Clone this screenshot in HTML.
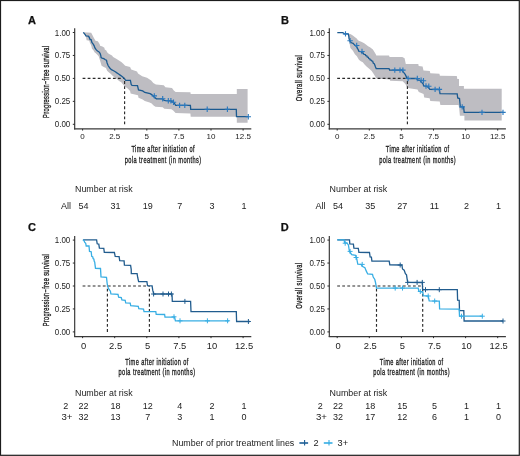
<!DOCTYPE html>
<html><head><meta charset="utf-8"><title>Figure</title>
<style>
html,body{margin:0;padding:0;background:#fff;}
svg{display:block;will-change:transform;font-family:"Liberation Sans", sans-serif;}
</style></head>
<body>
<svg width="520" height="456" viewBox="0 0 520 456">
<rect x="0" y="0" width="520" height="456" fill="#fff"/>
<polygon points="83.3,32.3 87.3,32.5 91.2,32.8 92.5,35.2 93.5,37.2 94.5,38.9 95.5,40.8 97.8,41.2 98.8,42.8 99.8,44.4 100.1,45.8 102.4,46.4 104.4,47.7 104.7,49.4 106.3,50.4 107.0,52.0 108.0,53.3 109.6,54.3 112.0,55.6 113.1,57.0 115.8,58.6 118.6,60.3 121.3,61.9 123.5,64.1 125.2,65.8 130.1,66.9 131.2,69.6 137.0,71.5 138.0,73.6 142.2,76.2 147.0,77.8 151.2,80.4 153.3,83.1 155.9,84.6 163.8,85.2 165.4,87.3 172.0,88.1 173.8,90.5 175.6,92.0 190.4,92.2 190.7,94.1 236.8,94.1 236.8,89.1 247.6,89.1 247.6,122.8 236.8,122.8 236.8,116.7 190.7,116.7 190.4,113.4 175.6,112.9 173.2,110.5 171.4,109.3 164.3,108.8 162.7,107.3 155.4,106.7 153.3,105.2 151.7,103.6 149.6,102.5 144.8,101.0 142.7,99.4 138.5,97.8 138.0,95.2 130.6,93.6 130.1,91.0 128.0,88.8 125.7,87.1 123.5,85.0 121.3,82.2 119.1,81.1 117.5,79.5 115.3,77.8 113.1,76.2 110.9,74.0 108.7,72.3 107.1,70.7 106.0,68.0 103.8,66.9 101.6,65.8 100.5,61.9 99.4,58.5 98.8,56.6 97.8,55.3 96.8,54.3 95.8,53.3 94.5,52.3 93.8,50.7 92.9,49.7 91.9,48.4 91.5,46.4 90.9,44.8 89.9,43.1 89.6,41.5 88.6,40.5 86.6,40.2 86.3,38.5 85.9,36.6 83.3,32.6" fill="#bebdc2"/>
<path d="M82.6 78.4H124.6" fill="none" stroke="#2a2a2a" stroke-width="1.15" stroke-dasharray="2.8 2.25"/>
<path d="M124.6 124.3V78.4" fill="none" stroke="#2a2a2a" stroke-width="1.15" stroke-dasharray="2.8 2.25"/>
<polyline points="83.3,32.3 85.0,34.3 85.9,35.9 88.3,36.2 89.2,37.2 89.9,39.2 91.2,39.8 91.9,42.5 93.2,44.1 94.2,45.8 94.8,47.7 96.1,49.7 97.5,51.0 98.8,51.7 100.1,53.3 100.8,55.6 101.1,57.6 102.1,58.1 103.8,58.6 105.4,59.7 106.5,60.3 107.1,63.0 108.2,65.8 109.8,68.0 111.4,69.6 113.6,70.7 115.3,71.8 116.9,72.9 118.6,74.0 120.8,75.6 123.0,77.3 124.6,78.9 125.7,80.3 130.4,80.3 131.2,84.4 132.0,85.4 137.5,85.7 138.5,89.9 142.7,90.9 144.8,92.5 150.1,93.6 151.7,94.6 153.8,96.7 156.4,98.8 161.7,98.8 164.3,100.4 165.7,100.7 170.9,100.8 172.2,101.8 174.0,102.7 175.7,105.4 190.4,105.4 190.7,109.3 236.3,109.3 236.5,116.7 248.3,116.7" fill="none" stroke="#1b5a90" stroke-width="1.3"/>
<path d="M151.6 95.9H157.0M154.3 93.2V98.6" stroke="#2a78bd" stroke-width="1.1" fill="none"/>
<path d="M160.0 98.8H165.4M162.7 96.1V101.5" stroke="#2a78bd" stroke-width="1.1" fill="none"/>
<path d="M165.6 100.7H171.0M168.3 98.0V103.4" stroke="#2a78bd" stroke-width="1.1" fill="none"/>
<path d="M168.2 100.8H173.6M170.9 98.1V103.5" stroke="#2a78bd" stroke-width="1.1" fill="none"/>
<path d="M170.8 102.3H176.2M173.5 99.6V105.0" stroke="#2a78bd" stroke-width="1.1" fill="none"/>
<path d="M176.9 105.4H182.3M179.6 102.7V108.1" stroke="#2a78bd" stroke-width="1.1" fill="none"/>
<path d="M182.1 105.4H187.5M184.8 102.7V108.1" stroke="#2a78bd" stroke-width="1.1" fill="none"/>
<path d="M204.5 109.3H209.9M207.2 106.6V112.0" stroke="#2a78bd" stroke-width="1.1" fill="none"/>
<path d="M224.7 109.3H230.1M227.4 106.6V112.0" stroke="#2a78bd" stroke-width="1.1" fill="none"/>
<path d="M245.6 116.7H251.0M248.3 114.0V119.4" stroke="#2a78bd" stroke-width="1.1" fill="none"/>
<polygon points="337.3,32.6 343.0,32.6 348.2,33.4 350.8,34.2 352.8,35.6 354.7,36.9 356.7,38.5 358.0,40.2 359.3,41.1 361.3,41.8 363.3,42.8 364.6,43.5 368.1,46.3 370.0,47.3 372.9,49.6 375.8,54.2 376.3,55.4 389.0,55.4 389.6,57.1 402.3,57.1 404.6,58.3 405.8,64.0 418.3,64.1 418.7,66.1 422.6,66.5 423.5,70.4 429.8,70.9 430.3,73.3 439.4,73.8 439.9,75.7 456.8,76.0 457.3,79.0 459.0,79.0 459.0,86.1 463.9,86.1 463.9,88.7 501.7,88.7 501.7,120.4 464.4,120.4 464.4,115.7 459.9,115.7 459.2,108.3 458.5,104.9 440.4,104.9 439.7,101.5 430.3,100.9 429.6,98.2 424.2,97.5 423.6,94.1 418.8,92.1 417.5,89.4 407.4,88.1 405.4,84.0 402.7,81.3 390.2,80.8 389.6,79.6 376.6,78.6 375.2,76.6 373.7,74.1 371.7,71.1 369.8,69.2 366.8,66.7 364.8,64.7 362.8,62.2 360.8,61.2 358.9,59.8 356.9,56.3 354.9,54.3 352.9,50.8 350.4,47.9 349.5,42.9 348.2,34.2 343.0,32.6 337.3,32.6" fill="#bebdc2"/>
<path d="M337.2 78.4H407.4" fill="none" stroke="#2a2a2a" stroke-width="1.15" stroke-dasharray="2.8 2.25"/>
<path d="M407.4 124.3V78.4" fill="none" stroke="#2a2a2a" stroke-width="1.15" stroke-dasharray="2.8 2.25"/>
<polyline points="337.3,32.6 342.9,32.6 344.2,33.9 348.2,33.9 348.8,36.2 349.1,38.8 350.1,41.5 351.4,42.8 353.1,43.4 354.7,45.1 356.7,46.7 357.7,48.7 359.0,51.3 361.3,51.6 361.8,52.6 363.3,53.0 363.8,54.3 365.3,54.6 365.8,55.6 366.8,55.8 367.2,57.0 368.3,57.3 368.8,58.5 369.8,58.8 370.2,60.0 371.2,60.2 371.7,61.0 372.7,61.2 373.2,63.0 374.2,63.6 374.7,64.8 375.5,67.0 376.2,68.5 389.0,68.6 389.6,70.1 401.7,70.1 403.4,72.1 405.2,74.4 406.9,77.9 408.1,78.5 416.3,78.5 417.8,80.0 420.2,80.5 421.1,81.9 423.1,83.8 423.6,85.8 426.4,86.3 428.8,87.7 429.8,89.3 439.4,89.5 440.0,93.7 457.2,93.8 457.7,98.0 459.5,98.5 460.3,106.9 463.6,106.9 464.2,112.4 503.0,112.4" fill="none" stroke="#1b5a90" stroke-width="1.3"/>
<path d="M342.8 33.9H348.2M345.5 31.2V36.6" stroke="#2a78bd" stroke-width="1.1" fill="none"/>
<path d="M347.4 40.8H352.8M350.1 38.1V43.5" stroke="#2a78bd" stroke-width="1.1" fill="none"/>
<path d="M354.0 45.5H359.4M356.7 42.8V48.2" stroke="#2a78bd" stroke-width="1.1" fill="none"/>
<path d="M359.3 51.5H364.7M362.0 48.8V54.2" stroke="#2a78bd" stroke-width="1.1" fill="none"/>
<path d="M392.1 70.1H397.5M394.8 67.4V72.8" stroke="#2a78bd" stroke-width="1.1" fill="none"/>
<path d="M397.3 70.1H402.7M400.0 67.4V72.8" stroke="#2a78bd" stroke-width="1.1" fill="none"/>
<path d="M400.2 70.1H405.6M402.9 67.4V72.8" stroke="#2a78bd" stroke-width="1.1" fill="none"/>
<path d="M405.4 78.5H410.8M408.1 75.8V81.2" stroke="#2a78bd" stroke-width="1.1" fill="none"/>
<path d="M414.6 78.5H420.0M417.3 75.8V81.2" stroke="#2a78bd" stroke-width="1.1" fill="none"/>
<path d="M418.4 80.3H423.8M421.1 77.6V83.0" stroke="#2a78bd" stroke-width="1.1" fill="none"/>
<path d="M420.8 80.7H426.2M423.5 78.0V83.4" stroke="#2a78bd" stroke-width="1.1" fill="none"/>
<path d="M423.3 86.0H428.7M426.0 83.3V88.7" stroke="#2a78bd" stroke-width="1.1" fill="none"/>
<path d="M426.1 86.3H431.5M428.8 83.6V89.0" stroke="#2a78bd" stroke-width="1.1" fill="none"/>
<path d="M432.4 89.4H437.8M435.1 86.7V92.1" stroke="#2a78bd" stroke-width="1.1" fill="none"/>
<path d="M436.7 89.4H442.1M439.4 86.7V92.1" stroke="#2a78bd" stroke-width="1.1" fill="none"/>
<path d="M459.5 106.9H464.9M462.2 104.2V109.6" stroke="#2a78bd" stroke-width="1.1" fill="none"/>
<path d="M479.3 112.4H484.7M482.0 109.7V115.1" stroke="#2a78bd" stroke-width="1.1" fill="none"/>
<path d="M500.3 112.4H505.7M503.0 109.7V115.1" stroke="#2a78bd" stroke-width="1.1" fill="none"/>
<path d="M82.6 286.0H149.4" fill="none" stroke="#2a2a2a" stroke-width="1.15" stroke-dasharray="2.8 2.25"/>
<path d="M107.4 331.9V286.0" fill="none" stroke="#2a2a2a" stroke-width="1.15" stroke-dasharray="2.8 2.25"/>
<path d="M149.4 331.9V286.0" fill="none" stroke="#2a2a2a" stroke-width="1.15" stroke-dasharray="2.8 2.25"/>
<polyline points="82.9,239.9 96.6,239.9 97.2,243.8 98.8,244.1 99.4,248.2 103.8,248.4 104.3,252.3 114.4,252.5 115.2,256.4 119.1,256.6 119.7,260.6 124.1,260.9 124.4,265.1 130.6,265.3 131.2,269.3 131.3,273.5 137.1,273.6 137.7,277.5 138.6,281.5 146.9,281.7 147.5,285.7 152.1,285.9 152.7,290.2 153.8,294.0 172.0,294.0 172.3,301.4 190.6,301.4 191.0,311.7 236.3,311.7 236.6,321.5 249.8,321.5" fill="none" stroke="#215c8e" stroke-width="1.3"/>
<path d="M151.1 294.0H156.1M153.6 291.5V296.5" stroke="#215c8e" stroke-width="1.0" fill="none"/>
<path d="M160.5 294.0H165.5M163.0 291.5V296.5" stroke="#215c8e" stroke-width="1.0" fill="none"/>
<path d="M166.0 294.0H171.0M168.5 291.5V296.5" stroke="#215c8e" stroke-width="1.0" fill="none"/>
<path d="M168.9 294.0H173.9M171.4 291.5V296.5" stroke="#215c8e" stroke-width="1.0" fill="none"/>
<path d="M182.4 301.4H187.4M184.9 298.9V303.9" stroke="#215c8e" stroke-width="1.0" fill="none"/>
<path d="M245.9 321.5H250.9M248.4 319.0V324.0" stroke="#215c8e" stroke-width="1.0" fill="none"/>
<polyline points="82.9,239.9 84.0,240.5 84.6,242.1 85.7,243.2 86.2,246.0 89.0,246.0 89.5,251.4 91.2,251.7 91.7,256.4 92.8,256.9 93.1,258.6 93.9,259.1 94.2,261.3 94.7,261.9 95.0,264.6 95.5,268.3 100.5,268.5 101.0,276.8 106.5,277.3 107.1,283.0 107.6,286.2 108.7,289.0 110.4,291.2 110.9,293.9 118.0,294.3 118.6,297.2 121.3,297.5 121.9,300.0 125.2,300.3 125.7,302.8 130.2,303.2 130.7,305.7 138.3,306.3 138.8,308.6 143.5,309.0 144.0,311.5 155.8,311.6 156.2,314.3 164.6,314.5 165.0,317.2 174.6,317.2 175.4,320.8 229.0,320.8" fill="none" stroke="#38aee4" stroke-width="1.3"/>
<path d="M171.5 316.8H176.5M174.0 314.3V319.3" stroke="#38aee4" stroke-width="1.0" fill="none"/>
<path d="M177.5 320.8H182.5M180.0 318.3V323.3" stroke="#38aee4" stroke-width="1.0" fill="none"/>
<path d="M204.9 320.8H209.9M207.4 318.3V323.3" stroke="#38aee4" stroke-width="1.0" fill="none"/>
<path d="M225.1 320.8H230.1M227.6 318.3V323.3" stroke="#38aee4" stroke-width="1.0" fill="none"/>
<path d="M337.2 286.0H422.7" fill="none" stroke="#2a2a2a" stroke-width="1.15" stroke-dasharray="2.8 2.25"/>
<path d="M376.5 331.9V286.0" fill="none" stroke="#2a2a2a" stroke-width="1.15" stroke-dasharray="2.8 2.25"/>
<path d="M422.7 331.9V286.0" fill="none" stroke="#2a2a2a" stroke-width="1.15" stroke-dasharray="2.8 2.25"/>
<polyline points="337.3,239.9 349.5,239.9 349.8,243.8 353.4,244.0 353.9,248.2 358.3,248.4 358.9,252.3 369.5,252.5 370.1,256.9 371.4,257.1 371.9,261.0 389.2,261.1 389.8,264.9 401.9,265.0 402.5,269.0 404.2,270.2 405.4,273.6 406.5,274.8 407.1,278.8 407.7,282.4 422.4,282.5 422.6,289.7 457.3,289.7 457.6,300.2 459.2,300.3 459.5,310.6 463.8,310.6 464.1,321.0 503.0,321.0" fill="none" stroke="#215c8e" stroke-width="1.3"/>
<path d="M397.7 265.0H402.7M400.2 262.5V267.5" stroke="#215c8e" stroke-width="1.0" fill="none"/>
<path d="M405.2 282.4H410.2M407.7 279.9V284.9" stroke="#215c8e" stroke-width="1.0" fill="none"/>
<path d="M414.6 282.4H419.6M417.1 279.9V284.9" stroke="#215c8e" stroke-width="1.0" fill="none"/>
<path d="M419.8 282.4H424.8M422.3 279.9V284.9" stroke="#215c8e" stroke-width="1.0" fill="none"/>
<path d="M423.0 289.7H428.0M425.5 287.2V292.2" stroke="#215c8e" stroke-width="1.0" fill="none"/>
<path d="M436.8 289.7H441.8M439.3 287.2V292.2" stroke="#215c8e" stroke-width="1.0" fill="none"/>
<path d="M500.5 321.0H505.5M503.0 318.5V323.5" stroke="#215c8e" stroke-width="1.0" fill="none"/>
<polyline points="337.3,239.9 344.1,239.9 344.6,242.7 346.8,242.9 348.4,244.9 349.0,248.7 349.5,251.4 351.7,254.7 355.6,255.3 356.7,258.6 357.8,264.1 361.1,264.4 362.2,266.3 364.9,267.7 366.2,270.9 367.7,274.0 372.5,274.4 373.2,277.1 374.8,279.5 375.5,282.5 376.5,288.1 418.2,288.1 418.8,291.1 420.5,291.6 422.9,292.3 423.2,295.7 428.2,296.0 429.2,300.9 439.3,301.1 439.6,308.9 459.2,309.1 459.5,316.2 482.3,316.2" fill="none" stroke="#38aee4" stroke-width="1.3"/>
<path d="M342.7 243.2H347.7M345.2 240.7V245.7" stroke="#38aee4" stroke-width="1.0" fill="none"/>
<path d="M347.6 251.4H352.6M350.1 248.9V253.9" stroke="#38aee4" stroke-width="1.0" fill="none"/>
<path d="M353.6 257.5H358.6M356.1 255.0V260.0" stroke="#38aee4" stroke-width="1.0" fill="none"/>
<path d="M359.7 264.4H364.7M362.2 261.9V266.9" stroke="#38aee4" stroke-width="1.0" fill="none"/>
<path d="M392.7 288.1H397.7M395.2 285.6V290.6" stroke="#38aee4" stroke-width="1.0" fill="none"/>
<path d="M400.0 288.1H405.0M402.5 285.6V290.6" stroke="#38aee4" stroke-width="1.0" fill="none"/>
<path d="M417.8 291.5H422.8M420.3 289.0V294.0" stroke="#38aee4" stroke-width="1.0" fill="none"/>
<path d="M425.7 296.0H430.7M428.2 293.5V298.5" stroke="#38aee4" stroke-width="1.0" fill="none"/>
<path d="M432.2 301.0H437.2M434.7 298.5V303.5" stroke="#38aee4" stroke-width="1.0" fill="none"/>
<path d="M459.0 316.2H464.0M461.5 313.7V318.7" stroke="#38aee4" stroke-width="1.0" fill="none"/>
<path d="M479.8 316.2H484.8M482.3 313.7V318.7" stroke="#38aee4" stroke-width="1.0" fill="none"/>
<path d="M74.70 28.30V129.45" fill="none" stroke="#2b2b2b" stroke-width="1.1"/>
<path d="M74.15 128.95H251.30" fill="none" stroke="#3a3a3a" stroke-width="1.25"/>
<line x1="72.80" y1="124.30" x2="74.70" y2="124.30" stroke="#2b2b2b" stroke-width="1"/>
<text x="70.30" y="127.30" text-anchor="end" font-size="8.5" fill="#222" textLength="15.5" lengthAdjust="spacingAndGlyphs">0.00</text>
<line x1="72.80" y1="101.35" x2="74.70" y2="101.35" stroke="#2b2b2b" stroke-width="1"/>
<text x="70.30" y="104.35" text-anchor="end" font-size="8.5" fill="#222" textLength="15.5" lengthAdjust="spacingAndGlyphs">0.25</text>
<line x1="72.80" y1="78.40" x2="74.70" y2="78.40" stroke="#2b2b2b" stroke-width="1"/>
<text x="70.30" y="81.40" text-anchor="end" font-size="8.5" fill="#222" textLength="15.5" lengthAdjust="spacingAndGlyphs">0.50</text>
<line x1="72.80" y1="55.45" x2="74.70" y2="55.45" stroke="#2b2b2b" stroke-width="1"/>
<text x="70.30" y="58.45" text-anchor="end" font-size="8.5" fill="#222" textLength="15.5" lengthAdjust="spacingAndGlyphs">0.75</text>
<line x1="72.80" y1="32.50" x2="74.70" y2="32.50" stroke="#2b2b2b" stroke-width="1"/>
<text x="70.30" y="35.50" text-anchor="end" font-size="8.5" fill="#222" textLength="15.5" lengthAdjust="spacingAndGlyphs">1.00</text>
<line x1="82.60" y1="128.95" x2="82.60" y2="130.55" stroke="#2b2b2b" stroke-width="1"/>
<text x="82.60" y="138.90" text-anchor="middle" font-size="8" fill="#222">0</text>
<line x1="114.70" y1="128.95" x2="114.70" y2="130.55" stroke="#2b2b2b" stroke-width="1"/>
<text x="114.70" y="138.90" text-anchor="middle" font-size="8" fill="#222">2.5</text>
<line x1="146.80" y1="128.95" x2="146.80" y2="130.55" stroke="#2b2b2b" stroke-width="1"/>
<text x="146.80" y="138.90" text-anchor="middle" font-size="8" fill="#222">5</text>
<line x1="178.90" y1="128.95" x2="178.90" y2="130.55" stroke="#2b2b2b" stroke-width="1"/>
<text x="178.90" y="138.90" text-anchor="middle" font-size="8" fill="#222">7.5</text>
<line x1="211.00" y1="128.95" x2="211.00" y2="130.55" stroke="#2b2b2b" stroke-width="1"/>
<text x="211.00" y="138.90" text-anchor="middle" font-size="8" fill="#222">10</text>
<line x1="243.10" y1="128.95" x2="243.10" y2="130.55" stroke="#2b2b2b" stroke-width="1"/>
<text x="243.10" y="138.90" text-anchor="middle" font-size="8" fill="#222">12.5</text>
<text transform="translate(49.00 81.90) rotate(-90) scale(0.6 1)" text-anchor="middle" font-size="9.4" fill="#222" stroke="#222" stroke-width="0.35" textLength="120.00" lengthAdjust="spacing">Progression−free survival</text>
<path d="M329.30 28.30V129.45" fill="none" stroke="#2b2b2b" stroke-width="1.1"/>
<path d="M328.75 128.95H505.90" fill="none" stroke="#3a3a3a" stroke-width="1.25"/>
<line x1="327.40" y1="124.30" x2="329.30" y2="124.30" stroke="#2b2b2b" stroke-width="1"/>
<text x="324.90" y="127.30" text-anchor="end" font-size="8.5" fill="#222" textLength="15.5" lengthAdjust="spacingAndGlyphs">0.00</text>
<line x1="327.40" y1="101.35" x2="329.30" y2="101.35" stroke="#2b2b2b" stroke-width="1"/>
<text x="324.90" y="104.35" text-anchor="end" font-size="8.5" fill="#222" textLength="15.5" lengthAdjust="spacingAndGlyphs">0.25</text>
<line x1="327.40" y1="78.40" x2="329.30" y2="78.40" stroke="#2b2b2b" stroke-width="1"/>
<text x="324.90" y="81.40" text-anchor="end" font-size="8.5" fill="#222" textLength="15.5" lengthAdjust="spacingAndGlyphs">0.50</text>
<line x1="327.40" y1="55.45" x2="329.30" y2="55.45" stroke="#2b2b2b" stroke-width="1"/>
<text x="324.90" y="58.45" text-anchor="end" font-size="8.5" fill="#222" textLength="15.5" lengthAdjust="spacingAndGlyphs">0.75</text>
<line x1="327.40" y1="32.50" x2="329.30" y2="32.50" stroke="#2b2b2b" stroke-width="1"/>
<text x="324.90" y="35.50" text-anchor="end" font-size="8.5" fill="#222" textLength="15.5" lengthAdjust="spacingAndGlyphs">1.00</text>
<line x1="337.20" y1="128.95" x2="337.20" y2="130.55" stroke="#2b2b2b" stroke-width="1"/>
<text x="337.20" y="138.90" text-anchor="middle" font-size="8" fill="#222">0</text>
<line x1="369.30" y1="128.95" x2="369.30" y2="130.55" stroke="#2b2b2b" stroke-width="1"/>
<text x="369.30" y="138.90" text-anchor="middle" font-size="8" fill="#222">2.5</text>
<line x1="401.40" y1="128.95" x2="401.40" y2="130.55" stroke="#2b2b2b" stroke-width="1"/>
<text x="401.40" y="138.90" text-anchor="middle" font-size="8" fill="#222">5</text>
<line x1="433.50" y1="128.95" x2="433.50" y2="130.55" stroke="#2b2b2b" stroke-width="1"/>
<text x="433.50" y="138.90" text-anchor="middle" font-size="8" fill="#222">7.5</text>
<line x1="465.60" y1="128.95" x2="465.60" y2="130.55" stroke="#2b2b2b" stroke-width="1"/>
<text x="465.60" y="138.90" text-anchor="middle" font-size="8" fill="#222">10</text>
<line x1="497.70" y1="128.95" x2="497.70" y2="130.55" stroke="#2b2b2b" stroke-width="1"/>
<text x="497.70" y="138.90" text-anchor="middle" font-size="8" fill="#222">12.5</text>
<text transform="translate(302.20 78.20) rotate(-90) scale(0.6 1)" text-anchor="middle" font-size="9.4" fill="#222" stroke="#222" stroke-width="0.35" textLength="76.50" lengthAdjust="spacing">Overall survival</text>
<path d="M74.70 235.90V337.05" fill="none" stroke="#2b2b2b" stroke-width="1.1"/>
<path d="M74.15 336.55H251.30" fill="none" stroke="#3a3a3a" stroke-width="1.25"/>
<line x1="72.80" y1="331.90" x2="74.70" y2="331.90" stroke="#2b2b2b" stroke-width="1"/>
<text x="70.30" y="334.90" text-anchor="end" font-size="8.5" fill="#222" textLength="15.5" lengthAdjust="spacingAndGlyphs">0.00</text>
<line x1="72.80" y1="308.95" x2="74.70" y2="308.95" stroke="#2b2b2b" stroke-width="1"/>
<text x="70.30" y="311.95" text-anchor="end" font-size="8.5" fill="#222" textLength="15.5" lengthAdjust="spacingAndGlyphs">0.25</text>
<line x1="72.80" y1="286.00" x2="74.70" y2="286.00" stroke="#2b2b2b" stroke-width="1"/>
<text x="70.30" y="289.00" text-anchor="end" font-size="8.5" fill="#222" textLength="15.5" lengthAdjust="spacingAndGlyphs">0.50</text>
<line x1="72.80" y1="263.05" x2="74.70" y2="263.05" stroke="#2b2b2b" stroke-width="1"/>
<text x="70.30" y="266.05" text-anchor="end" font-size="8.5" fill="#222" textLength="15.5" lengthAdjust="spacingAndGlyphs">0.75</text>
<line x1="72.80" y1="240.10" x2="74.70" y2="240.10" stroke="#2b2b2b" stroke-width="1"/>
<text x="70.30" y="243.10" text-anchor="end" font-size="8.5" fill="#222" textLength="15.5" lengthAdjust="spacingAndGlyphs">1.00</text>
<line x1="82.60" y1="336.55" x2="82.60" y2="338.15" stroke="#2b2b2b" stroke-width="1"/>
<text x="83.50" y="348.60" text-anchor="middle" font-size="9.4" fill="#222">0</text>
<line x1="114.70" y1="336.55" x2="114.70" y2="338.15" stroke="#2b2b2b" stroke-width="1"/>
<text x="115.60" y="348.60" text-anchor="middle" font-size="9.4" fill="#222">2.5</text>
<line x1="146.80" y1="336.55" x2="146.80" y2="338.15" stroke="#2b2b2b" stroke-width="1"/>
<text x="147.70" y="348.60" text-anchor="middle" font-size="9.4" fill="#222">5</text>
<line x1="178.90" y1="336.55" x2="178.90" y2="338.15" stroke="#2b2b2b" stroke-width="1"/>
<text x="179.80" y="348.60" text-anchor="middle" font-size="9.4" fill="#222">7.5</text>
<line x1="211.00" y1="336.55" x2="211.00" y2="338.15" stroke="#2b2b2b" stroke-width="1"/>
<text x="211.90" y="348.60" text-anchor="middle" font-size="9.4" fill="#222">10</text>
<line x1="243.10" y1="336.55" x2="243.10" y2="338.15" stroke="#2b2b2b" stroke-width="1"/>
<text x="244.00" y="348.60" text-anchor="middle" font-size="9.4" fill="#222">12.5</text>
<text transform="translate(49.00 290.30) rotate(-90) scale(0.6 1)" text-anchor="middle" font-size="9.4" fill="#222" stroke="#222" stroke-width="0.35" textLength="120.00" lengthAdjust="spacing">Progression−free survival</text>
<path d="M329.30 235.90V337.05" fill="none" stroke="#2b2b2b" stroke-width="1.1"/>
<path d="M328.75 336.55H505.90" fill="none" stroke="#3a3a3a" stroke-width="1.25"/>
<line x1="327.40" y1="331.90" x2="329.30" y2="331.90" stroke="#2b2b2b" stroke-width="1"/>
<text x="324.90" y="334.90" text-anchor="end" font-size="8.5" fill="#222" textLength="15.5" lengthAdjust="spacingAndGlyphs">0.00</text>
<line x1="327.40" y1="308.95" x2="329.30" y2="308.95" stroke="#2b2b2b" stroke-width="1"/>
<text x="324.90" y="311.95" text-anchor="end" font-size="8.5" fill="#222" textLength="15.5" lengthAdjust="spacingAndGlyphs">0.25</text>
<line x1="327.40" y1="286.00" x2="329.30" y2="286.00" stroke="#2b2b2b" stroke-width="1"/>
<text x="324.90" y="289.00" text-anchor="end" font-size="8.5" fill="#222" textLength="15.5" lengthAdjust="spacingAndGlyphs">0.50</text>
<line x1="327.40" y1="263.05" x2="329.30" y2="263.05" stroke="#2b2b2b" stroke-width="1"/>
<text x="324.90" y="266.05" text-anchor="end" font-size="8.5" fill="#222" textLength="15.5" lengthAdjust="spacingAndGlyphs">0.75</text>
<line x1="327.40" y1="240.10" x2="329.30" y2="240.10" stroke="#2b2b2b" stroke-width="1"/>
<text x="324.90" y="243.10" text-anchor="end" font-size="8.5" fill="#222" textLength="15.5" lengthAdjust="spacingAndGlyphs">1.00</text>
<line x1="337.20" y1="336.55" x2="337.20" y2="338.15" stroke="#2b2b2b" stroke-width="1"/>
<text x="338.10" y="348.60" text-anchor="middle" font-size="9.4" fill="#222">0</text>
<line x1="369.30" y1="336.55" x2="369.30" y2="338.15" stroke="#2b2b2b" stroke-width="1"/>
<text x="370.20" y="348.60" text-anchor="middle" font-size="9.4" fill="#222">2.5</text>
<line x1="401.40" y1="336.55" x2="401.40" y2="338.15" stroke="#2b2b2b" stroke-width="1"/>
<text x="402.30" y="348.60" text-anchor="middle" font-size="9.4" fill="#222">5</text>
<line x1="433.50" y1="336.55" x2="433.50" y2="338.15" stroke="#2b2b2b" stroke-width="1"/>
<text x="434.40" y="348.60" text-anchor="middle" font-size="9.4" fill="#222">7.5</text>
<line x1="465.60" y1="336.55" x2="465.60" y2="338.15" stroke="#2b2b2b" stroke-width="1"/>
<text x="466.50" y="348.60" text-anchor="middle" font-size="9.4" fill="#222">10</text>
<line x1="497.70" y1="336.55" x2="497.70" y2="338.15" stroke="#2b2b2b" stroke-width="1"/>
<text x="498.60" y="348.60" text-anchor="middle" font-size="9.4" fill="#222">12.5</text>
<text transform="translate(302.20 285.80) rotate(-90) scale(0.6 1)" text-anchor="middle" font-size="9.4" fill="#222" stroke="#222" stroke-width="0.35" textLength="76.50" lengthAdjust="spacing">Overall survival</text>
<g transform="translate(163.00 0) scale(0.6 1)" font-size="9.4" fill="#222" stroke="#222" stroke-width="0.35" text-anchor="middle"><text x="0" y="152.50" textLength="105.33" lengthAdjust="spacing">Time after initiation of</text><text x="0" y="162.70" textLength="127.50" lengthAdjust="spacing">pola treatment (in months)</text></g>
<g transform="translate(417.40 0) scale(0.6 1)" font-size="9.4" fill="#222" stroke="#222" stroke-width="0.35" text-anchor="middle"><text x="0" y="152.50" textLength="105.33" lengthAdjust="spacing">Time after initiation of</text><text x="0" y="162.70" textLength="127.50" lengthAdjust="spacing">pola treatment (in months)</text></g>
<g transform="translate(156.80 0) scale(0.6 1)" font-size="9.4" fill="#222" stroke="#222" stroke-width="0.35" text-anchor="middle"><text x="0" y="365.00" textLength="105.33" lengthAdjust="spacing">Time after initiation of</text><text x="0" y="375.00" textLength="127.50" lengthAdjust="spacing">pola treatment (in months)</text></g>
<g transform="translate(411.40 0) scale(0.6 1)" font-size="9.4" fill="#222" stroke="#222" stroke-width="0.35" text-anchor="middle"><text x="0" y="365.00" textLength="105.33" lengthAdjust="spacing">Time after initiation of</text><text x="0" y="375.00" textLength="127.50" lengthAdjust="spacing">pola treatment (in months)</text></g>
<text x="28.0" y="23.5" font-size="11" font-weight="bold" fill="#111" stroke="#111" stroke-width="0.25">A</text>
<text x="280.9" y="23.5" font-size="11" font-weight="bold" fill="#111" stroke="#111" stroke-width="0.25">B</text>
<text x="27.9" y="231.0" font-size="11" font-weight="bold" fill="#111" stroke="#111" stroke-width="0.25">C</text>
<text x="280.7" y="230.9" font-size="11" font-weight="bold" fill="#111" stroke="#111" stroke-width="0.25">D</text>
<text x="75.00" y="192.30" font-size="9.1" fill="#222" textLength="57.6" lengthAdjust="spacingAndGlyphs">Number at risk</text>
<text x="70.90" y="209.20" text-anchor="end" font-size="9" fill="#222">All</text>
<text x="83.50" y="209.20" text-anchor="middle" font-size="9" fill="#222">54</text>
<text x="115.60" y="209.20" text-anchor="middle" font-size="9" fill="#222">31</text>
<text x="147.70" y="209.20" text-anchor="middle" font-size="9" fill="#222">19</text>
<text x="179.80" y="209.20" text-anchor="middle" font-size="9" fill="#222">7</text>
<text x="211.90" y="209.20" text-anchor="middle" font-size="9" fill="#222">3</text>
<text x="244.00" y="209.20" text-anchor="middle" font-size="9" fill="#222">1</text>
<text x="329.60" y="192.30" font-size="9.1" fill="#222" textLength="57.6" lengthAdjust="spacingAndGlyphs">Number at risk</text>
<text x="325.50" y="209.20" text-anchor="end" font-size="9" fill="#222">All</text>
<text x="338.10" y="209.20" text-anchor="middle" font-size="9" fill="#222">54</text>
<text x="370.20" y="209.20" text-anchor="middle" font-size="9" fill="#222">35</text>
<text x="402.30" y="209.20" text-anchor="middle" font-size="9" fill="#222">27</text>
<text x="434.40" y="209.20" text-anchor="middle" font-size="9" fill="#222">11</text>
<text x="466.50" y="209.20" text-anchor="middle" font-size="9" fill="#222">2</text>
<text x="498.60" y="209.20" text-anchor="middle" font-size="9" fill="#222">1</text>
<text x="75.00" y="396.20" font-size="9.1" fill="#222" textLength="57.6" lengthAdjust="spacingAndGlyphs">Number at risk</text>
<text x="68.20" y="409.30" text-anchor="end" font-size="9" fill="#222">2</text>
<text x="83.50" y="409.30" text-anchor="middle" font-size="9" fill="#222">22</text>
<text x="115.60" y="409.30" text-anchor="middle" font-size="9" fill="#222">18</text>
<text x="147.70" y="409.30" text-anchor="middle" font-size="9" fill="#222">12</text>
<text x="179.80" y="409.30" text-anchor="middle" font-size="9" fill="#222">4</text>
<text x="211.90" y="409.30" text-anchor="middle" font-size="9" fill="#222">2</text>
<text x="244.00" y="409.30" text-anchor="middle" font-size="9" fill="#222">1</text>
<text x="72.40" y="420.40" text-anchor="end" font-size="9" fill="#222" textLength="11" lengthAdjust="spacingAndGlyphs">3+</text>
<text x="83.50" y="420.40" text-anchor="middle" font-size="9" fill="#222">32</text>
<text x="115.60" y="420.40" text-anchor="middle" font-size="9" fill="#222">13</text>
<text x="147.70" y="420.40" text-anchor="middle" font-size="9" fill="#222">7</text>
<text x="179.80" y="420.40" text-anchor="middle" font-size="9" fill="#222">3</text>
<text x="211.90" y="420.40" text-anchor="middle" font-size="9" fill="#222">1</text>
<text x="244.00" y="420.40" text-anchor="middle" font-size="9" fill="#222">0</text>
<text x="329.60" y="396.20" font-size="9.1" fill="#222" textLength="57.6" lengthAdjust="spacingAndGlyphs">Number at risk</text>
<text x="322.80" y="409.30" text-anchor="end" font-size="9" fill="#222">2</text>
<text x="338.10" y="409.30" text-anchor="middle" font-size="9" fill="#222">22</text>
<text x="370.20" y="409.30" text-anchor="middle" font-size="9" fill="#222">18</text>
<text x="402.30" y="409.30" text-anchor="middle" font-size="9" fill="#222">15</text>
<text x="434.40" y="409.30" text-anchor="middle" font-size="9" fill="#222">5</text>
<text x="466.50" y="409.30" text-anchor="middle" font-size="9" fill="#222">1</text>
<text x="498.60" y="409.30" text-anchor="middle" font-size="9" fill="#222">1</text>
<text x="327.00" y="420.40" text-anchor="end" font-size="9" fill="#222" textLength="11" lengthAdjust="spacingAndGlyphs">3+</text>
<text x="338.10" y="420.40" text-anchor="middle" font-size="9" fill="#222">32</text>
<text x="370.20" y="420.40" text-anchor="middle" font-size="9" fill="#222">17</text>
<text x="402.30" y="420.40" text-anchor="middle" font-size="9" fill="#222">12</text>
<text x="434.40" y="420.40" text-anchor="middle" font-size="9" fill="#222">6</text>
<text x="466.50" y="420.40" text-anchor="middle" font-size="9" fill="#222">1</text>
<text x="498.60" y="420.40" text-anchor="middle" font-size="9" fill="#222">0</text>
<text x="172.0" y="446.4" font-size="9.2" fill="#222" textLength="122.3" lengthAdjust="spacingAndGlyphs">Number of prior treatment lines</text>
<line x1="299.4" y1="443" x2="308.09999999999997" y2="443" stroke="#1b5d95" stroke-width="1.6"/>
<line x1="304.59999999999997" y1="440.0" x2="304.59999999999997" y2="445.5" stroke="#1b5d95" stroke-width="1.1"/>
<text x="313.5" y="446.4" font-size="9.2" fill="#222">2</text>
<line x1="323.8" y1="443" x2="332.5" y2="443" stroke="#34ade3" stroke-width="1.6"/>
<line x1="329.0" y1="440.0" x2="329.0" y2="445.5" stroke="#34ade3" stroke-width="1.1"/>
<text x="337.6" y="446.4" font-size="9.2" fill="#222">3+</text>
<rect x="0.5" y="0.5" width="518.8" height="454.8" fill="none" stroke="#1c1c1c" stroke-width="1.2"/>
</svg>
</body></html>
